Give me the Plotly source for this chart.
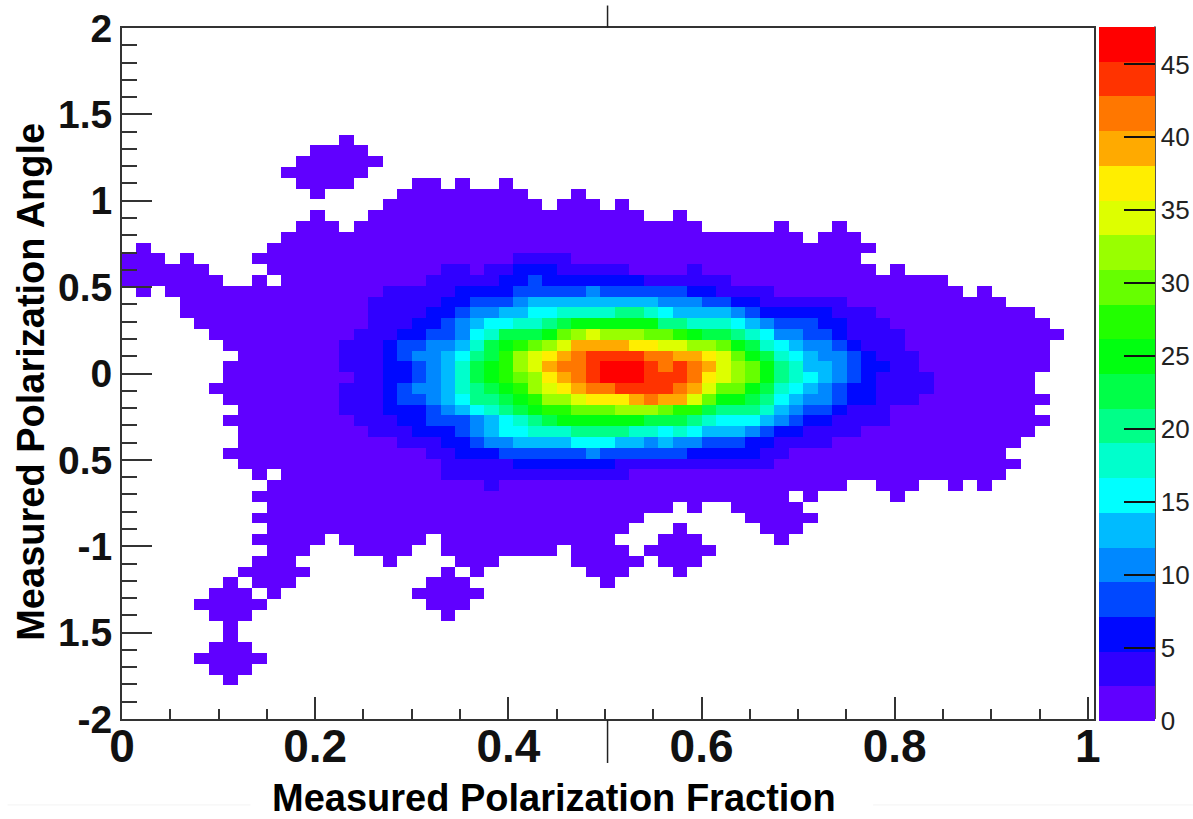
import math
import plotly.graph_objects as go

FONT = "Liberation Sans"
N_COLS, N_ROWS = 67, 64
BIN_X, BIN_Y, SHIFT_Y = 0.015, 0.0625, 0.0075
BAND = 2.38
BAND_COLORS = ["#6000ff", "#3000ff", "#0008ff", "#0048ff", "#0088ff", "#00bbff", "#00ffff",
               "#00ffcc", "#00ff88", "#00ff48", "#00ff10", "#22ff00", "#66ff00", "#99ff00",
               "#ddff00", "#ffee00", "#ffaa00", "#ff7700", "#ff3300", "#ff0000"]
LEVELS = "0123456789ABCDEFGHIJ"

# occupied bins per row, counted from the top of the plot (all at the lowest band)
OCCUPIED = {
    10: "15", 11: "13-16", 12: "12-17", 13: "11-16", 14: "12-15 20-21 23 26",
    15: "13 19-27 31", 16: "18-28 30-32 34", 17: "13 17-35 38", 18: "12-14 16-39 45 49",
    19: "11-46 48-50", 20: "1 10-51", 21: "0-2 4 9-50", 22: "0-5 10-51 53", 23: "0-6 9 11-56",
    24: "1 3-57 59", 25: "4-60", 26: "4-62", 27: "5-63", 28: "6-64", 29: "7-63", 30: "8-63",
    31: "7-63", 32: "7-62", 33: "6-62", 34: "7-63", 35: "8-62", 36: "7-63", 37: "8-62",
    38: "8-61", 39: "7-60", 40: "8-61", 41: "9 11-60", 42: "10-49 52-54 57 59",
    43: "9-45 47 53", 44: "10-37 39 42-46", 45: "9-35 43-47", 46: "10-34 38 44-46",
    47: "9-13 15-20 22-33 37-39 45", 48: "10-12 16-19 22-29 31-34 36-40",
    49: "9-11 18 23-25 31-35 37-39", 50: "8-12 22 24 32-34 38", 51: "7 9-11 21-23 33",
    52: "6-8 10 20-24", 53: "5-9 21-23", 54: "6-8 22", 55: "7", 56: "7", 57: "6-8",
    58: "5-9", 59: "6-8", 60: "7",
}

# bins above the lowest band, "columns:band"
CORE = {
    21: "27-30:1",
    22: "22-23:1 25-26:1 27-29:2 30-34:1 39:1",
    23: "21-25:1 26-27:2 28:3 29-35:2 36-41:1",
    24: "18-22:1 23-26:2 27-31:3 32:4 33-38:3 39-40:2 41-44:1",
    25: "17-21:1 22-23:2 24-26:3 27:4 28-36:5 37-39:4 40-41:3 42-43:2 44-49:1",
    26: "17-20:1 21-22:2 23:3 24-25:4 26-27:5 28-29:6 30-33:7 34-35:8 36:7 37:6 38-41:5 42:4 43:3 44-48:2 49-51:1",
    27: "17-19:1 20-21:2 22:3 23:4 24:5 25-26:6 27-28:7 29:8 30:9 31-36:A 37-38:8 39-41:7 42:6 43:5 44:4 45-47:3 48-49:2 50-52:1",
    28: "16-18:1 19-20:2 21-22:3 23:4 24:6 25:7 26-28:9 29:A 30:C 31:D 32:E 33-35:D 36-37:C 38:B 39:A 40-41:9 42:8 43:7 44:6 45-46:4 47-48:3 49:2 50-53:1",
    29: "15-17:1 18:2 19-20:3 21-22:4 23:5 24:7 25:9 26:A 27:B 28:C 29:D 30:E 31-34:G 35-36:F 37-38:E 39-40:D 41:C 42:A 43:9 44:7 45:6 46:5 47-48:4 49:3 50:2 51-53:1",
    30: "15-17:1 18:2 19:3 20-21:4 22:5 23:6 24:8 25:9 26:B 27:D 28:E 29:F 30:G 31:H 32-35:I 36-37:H 38-39:G 40:F 41:E 42:C 43:A 44:9 45:7 46:6 47:5 48-49:4 50:3 51:2 52-54:1",
    31: "15-17:1 18-19:2 20:3 21:4 22:5 23:7 24:9 25:A 26:B 27:D 28:E 29:G 30-31:H 32:I 33-35:J 36:I 37:H 38:I 39:H 40:G 41:E 42:D 43:C 44:A 45:8 46:7 47-48:5 49:4 50:3 51-52:2 53-54:1",
    32: "16-17:1 18-19:2 20:3 21:4 22:5 23:7 24:9 25:A 26:B 27:C 28:D 29:F 30:G 31:H 32:I 33-35:J 36-38:I 39:H 40:F 41:E 42:D 43:C 44:A 45:8 46:7 47:6 48:5 49:4 50:3 51:2 52-55:1",
    33: "15-17:1 18:2 19:3 20-21:4 22:5 23:7 24:8 25:9 26:A 27:B 28:D 29:E 30:F 31:G 32-33:H 34-37:I 38:H 39:G 40:E 41-42:C 43:A 44:9 45:7 46:6 47:5 48:4 49:3 50-51:2 52-55:1",
    34: "15-17:1 18:2 19-20:3 21:4 22:5 23:6 24-25:8 26:9 27:A 28:B 29-30:D 31:E 32-34:F 35:G 36:H 37-38:G 39:E 40:C 41-42:A 43:9 44:8 45:6 46:5 47-48:4 49:3 50-51:2 52-54:1",
    35: "15-17:1 18-20:2 21:3 22:4 23:5 24:6 25:7 26:8 27:9 28:A 29-30:B 31-33:C 34-36:D 37:C 38-39:B 40:9 41-43:8 44:7 45:5 46:4 47-48:3 49:2 50-52:1",
    36: "16-18:1 19-20:2 21-23:3 24:4 25:5 26:6 27:7 28:8 29:9 30-35:A 36-38:9 39:8 40:7 41-43:6 44:5 45:4 46:3 47-48:2 49-52:1",
    37: "17-19:1 20-22:2 23:3 24:4 25:5 26-27:6 28-30:7 31-34:8 35-36:7 37:6 38:7 39:6 40-42:5 43:4 44:3 45-46:2 47-50:1",
    38: "19-21:1 22-23:2 24:3 25-26:4 27-30:5 31-33:6 34-35:5 36:4 37:5 38-39:4 40-42:3 43-44:2 45-48:1",
    39: "21-22:1 23-25:2 26-31:3 32:4 33-38:3 39-43:2 44-45:1",
    40: "22-26:1 27-33:2 34-44:1",
    41: "22-34:1",
    42: "25:1",
}

X_TICKS = [0, 0.2, 0.4, 0.6, 0.8, 1]
X_LABELS = ["0", "0.2", "0.4", "0.6", "0.8", "1"]
Y_TICKS = [2, 1.5, 1, 0.5, 0, -0.5, -1, -1.5, -2]
Y_LABELS = ["2", "1.5", "1", "0.5", "0", "0.5", "-1", "1.5", "-2"]
CB_TICKS = [0, 5, 10, 15, 20, 25, 30, 35, 40, 45]


def span(text):
    a, _, b = text.partition("-")
    return range(int(a), int(b or a) + 1)


grid = [[math.nan] * N_COLS for _ in range(N_ROWS)]
for row, spec in OCCUPIED.items():
    for part in spec.split():
        for c in span(part):
            grid[row][c] = 0.5 * BAND
for row, spec in CORE.items():
    for part in spec.split():
        cols, level = part.split(":")
        for c in span(cols):
            grid[row][c] = (LEVELS.index(level) + 0.5) * BAND

W, H = 1193, 819
L, R, T, B = 121.5, 1094.0, 27.5, 719.0
xf = lambda x: (x - L) / (R - L)
yf = lambda y: (B - y) / (B - T)

n = len(BAND_COLORS)
scale = []
for i, c in enumerate(BAND_COLORS):
    scale += [[i / n, c], [(i + 1) / n, c]]

fig = go.Figure(go.Heatmap(
    x=[BIN_X * k for k in range(N_COLS + 1)],
    y=[-2 + SHIFT_Y + BIN_Y * k for k in range(N_ROWS + 1)],
    z=grid[::-1],
    zmin=0, zmax=n * BAND,
    colorscale=scale,
    hoverongaps=False,
    colorbar=dict(
        x=xf(1099), xanchor="left", xpad=0, thickness=56,
        y=0.5, yanchor="middle", ypad=0, len=1.004, lenmode="fraction",
        outlinewidth=0,
        tickvals=CB_TICKS, ticks="inside", ticklen=31, tickwidth=2, tickcolor="#111",
        tickfont=dict(family=FONT, size=26, color="#222"),
    ),
))

axis_common = dict(showgrid=False, zeroline=False, showline=True, linecolor="#333", linewidth=2,
                   mirror=True, ticks="inside", tickcolor="#333", tickwidth=2, tickmode="array")
fig.update_xaxes(range=[0, (R - L) / 966.4], tickvals=X_TICKS, ticktext=X_LABELS, ticklen=22,
                 tickfont=dict(family=FONT, size=46, color="#111", weight="bold"), tickangle=0,
                 ticklabelstandoff=-14,
                 minor=dict(tickvals=[i * 0.05 for i in range(21)], ticks="inside", ticklen=10,
                            tickwidth=2, tickcolor="#333"),
                 **axis_common)
fig.update_yaxes(range=[-2, 2], tickvals=Y_TICKS, ticktext=Y_LABELS, ticklen=30,
                 tickfont=dict(family=FONT, size=39, color="#111", weight="bold"),
                 minor=dict(tickvals=[-2 + i * 0.1 for i in range(41)], ticks="inside", ticklen=15,
                            tickwidth=2, tickcolor="#333"),
                 **axis_common)

line = dict(color="#222", width=1.5)
faint = dict(color="#f3f3f3", width=1)
shapes = [
    dict(type="line", xref="paper", yref="paper", x0=xf(607.3), x1=xf(607.3), y0=yf(720), y1=yf(763), line=line),
    dict(type="line", xref="paper", yref="paper", x0=xf(607.3), x1=xf(607.3), y0=yf(27), y1=yf(5), line=line),
    dict(type="line", xref="paper", yref="paper", x0=xf(1155), x1=xf(1155), y0=yf(719), y1=yf(26),
         line=dict(color="#111", width=1.5)),
    dict(type="line", xref="paper", yref="paper", x0=xf(7), x1=xf(250), y0=yf(805), y1=yf(805), line=faint),
    dict(type="line", xref="paper", yref="paper", x0=xf(873), x1=xf(1193), y0=yf(805), y1=yf(805), line=faint),
]
annotations = [
    dict(text="<b>Measured Polarization Fraction</b>", xref="paper", yref="paper", x=xf(554), y=yf(798),
         showarrow=False, xanchor="center", yanchor="middle",
         font=dict(family=FONT, size=38, color="#000")),
    dict(text="<b>Measured Polarization Angle</b>", xref="paper", yref="paper", x=xf(31), y=yf(382),
         showarrow=False, xanchor="center", yanchor="middle", textangle=-90,
         font=dict(family=FONT, size=38, color="#000")),
]

fig.update_layout(
    width=W, height=H, autosize=False,
    margin=dict(l=L, r=W - R, t=T, b=H - B, pad=0, autoexpand=False),
    paper_bgcolor="white", plot_bgcolor="white",
    shapes=shapes, annotations=annotations,
)
fig.write_html("out.html", config={"displayModeBar": False},
               post_script="document.body.style.margin='0';")
